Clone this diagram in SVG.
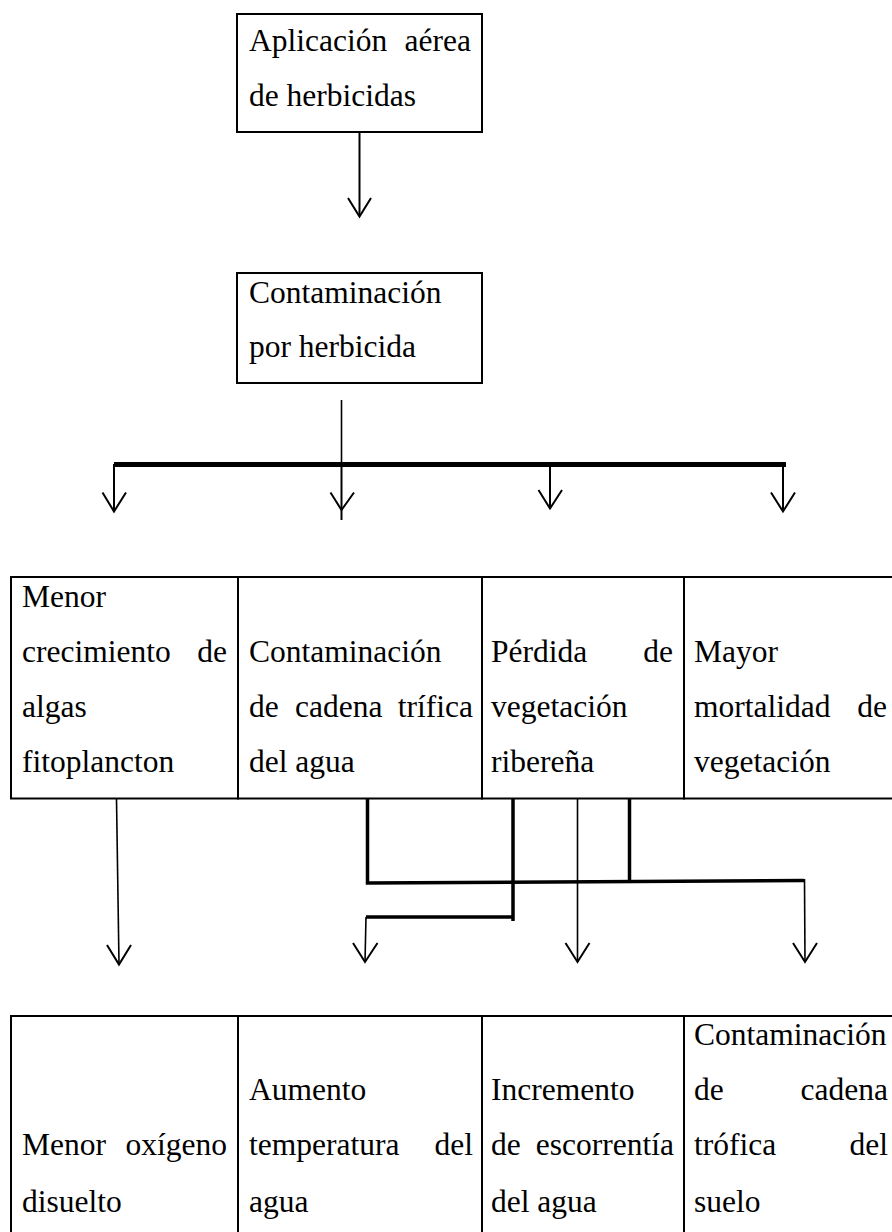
<svg xmlns="http://www.w3.org/2000/svg" width="892" height="1232" viewBox="0 0 892 1232">
<style>
.box{fill:#fff;stroke:#000;stroke-width:2}
.t{font-family:"Liberation Serif","Times New Roman",serif;font-size:31.5px;fill:#000}
.e{text-anchor:end}
.thin{fill:none;stroke:#000;stroke-width:1.6}
.mid{fill:none;stroke:#000;stroke-width:2}
.thick{fill:none;stroke:#000;stroke-width:3.5}
.bar{fill:none;stroke:#000;stroke-width:5}
.head{fill:none;stroke:#000;stroke-width:2}
</style>
<rect width="892" height="1232" fill="#fff"/>

<g id="connectors">
  <line class="mid" x1="359.5" y1="132" x2="359.5" y2="216"/>
  <polyline class="head" points="348,198 359.5,216.5 371,198"/>
  <line class="thin" x1="341.5" y1="400" x2="341.5" y2="464"/>
  <line class="mid" x1="341.5" y1="464" x2="341.5" y2="520"/>
  <line class="bar" x1="114" y1="464.5" x2="786" y2="464.5"/>
  <line class="mid" x1="114" y1="464" x2="114" y2="511"/>
  <polyline class="head" points="102.5,492.5 114,511.5 126,492.5"/>
  <polyline class="head" points="330.5,492.5 341.5,510 354,492.5"/>
  <line class="mid" x1="550" y1="464" x2="550" y2="508"/>
  <polyline class="head" points="538.5,490 550,508.5 562,490"/>
  <line class="mid" x1="783" y1="464" x2="783" y2="511"/>
  <polyline class="head" points="771,492.5 783,511.5 795,492.5"/>

  <line class="thin" x1="116.5" y1="799" x2="119" y2="964"/>
  <polyline class="head" points="107,945 119,964.5 131,945"/>
  <path class="thick" d="M367.5,799 V883 L804,880.5"/>
  <line class="thick" x1="629.5" y1="799" x2="629.5" y2="882"/>
  <line class="thin" x1="804.5" y1="879" x2="805" y2="962"/>
  <polyline class="head" points="793,943 805,962 817,943"/>
  <path class="thick" d="M513,799 V921 M513,917 H366"/>
  <line class="thin" x1="366" y1="917" x2="365" y2="962"/>
  <polyline class="head" points="353,943 365,962 377.5,943"/>
  <line class="thin" x1="577.5" y1="799" x2="577.5" y2="962"/>
  <polyline class="head" points="565.5,943 577.5,962 589.5,943"/>
</g>

<g id="n_aplicacion">
  <rect class="box" x="237" y="14" width="245" height="118"/>
  <text class="t" x="249" y="51">Aplicación</text>
  <text class="t e" x="471" y="51">aérea</text>
  <text class="t" x="249" y="106">de herbicidas</text>
</g>

<g id="n_contaminacion">
  <rect class="box" x="237" y="273" width="245" height="110"/>
  <text class="t" x="249" y="303">Contaminación</text>
  <text class="t" x="249" y="357">por herbicida</text>
</g>

<g id="n_algas">
  <rect class="box" x="11" y="577" width="227" height="221.5"/>
  <text class="t" x="22" y="607">Menor</text>
  <text class="t" x="22" y="662">crecimiento</text>
  <text class="t e" x="227" y="662">de</text>
  <text class="t" x="22" y="717">algas</text>
  <text class="t" x="22" y="772">fitoplancton</text>
</g>

<g id="n_cadena_agua">
  <rect class="box" x="238" y="577" width="244" height="221.5"/>
  <text class="t" x="249" y="662">Contaminación</text>
  <text class="t" x="249" y="717">de</text>
  <text class="t" x="295" y="717">cadena</text>
  <text class="t e" x="473" y="717">trífica</text>
  <text class="t" x="249" y="772">del agua</text>
</g>

<g id="n_perdida">
  <rect class="box" x="482" y="577" width="202" height="221.5"/>
  <text class="t" x="491" y="662">Pérdida</text>
  <text class="t e" x="673" y="662">de</text>
  <text class="t" x="491" y="717">vegetación</text>
  <text class="t" x="491" y="772">ribereña</text>
</g>

<g id="n_mortalidad">
  <rect class="box" x="684" y="577" width="230" height="221.5"/>
  <text class="t" x="694" y="662">Mayor</text>
  <text class="t" x="694" y="717">mortalidad</text>
  <text class="t e" x="887" y="717">de</text>
  <text class="t" x="694" y="772">vegetación</text>
</g>

<g id="n_oxigeno">
  <rect class="box" x="11" y="1016" width="227" height="240"/>
  <text class="t" x="22" y="1155">Menor</text>
  <text class="t e" x="227" y="1155">oxígeno</text>
  <text class="t" x="22" y="1211.5">disuelto</text>
</g>

<g id="n_temperatura">
  <rect class="box" x="238" y="1016" width="244" height="240"/>
  <text class="t" x="249" y="1100">Aumento</text>
  <text class="t" x="249" y="1155">temperatura</text>
  <text class="t e" x="473" y="1155">del</text>
  <text class="t" x="249" y="1211.5">agua</text>
</g>

<g id="n_escorrentia">
  <rect class="box" x="482" y="1016" width="202" height="240"/>
  <text class="t" x="491" y="1100">Incremento</text>
  <text class="t" x="491" y="1155">de</text>
  <text class="t e" x="674" y="1155">escorrentía</text>
  <text class="t" x="491" y="1211.5">del agua</text>
</g>

<g id="n_cadena_suelo">
  <rect class="box" x="684" y="1016" width="230" height="240"/>
  <text class="t" x="694" y="1045">Contaminación</text>
  <text class="t" x="694" y="1100">de</text>
  <text class="t e" x="888" y="1100">cadena</text>
  <text class="t" x="694" y="1155">trófica</text>
  <text class="t e" x="888" y="1155">del</text>
  <text class="t" x="694" y="1211.5">suelo</text>
</g>
</svg>
